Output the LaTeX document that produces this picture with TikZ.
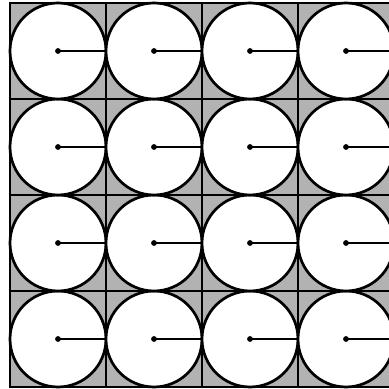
\documentclass[tikz,border=0pt]{standalone}
\usepackage{tikz}

\begin{document}
\begin{tikzpicture}[
  x=1cm, y=1cm,
  cellbox/.style={draw, fill=black!30, line width=0.8pt},
  disc/.style={draw, fill=white, line width=0.8pt},
  spoke/.style={line width=0.8pt}]
  \useasboundingbox (-10/96,-2/96) rectangle (379/96,4+3/96);
  \clip (-10/96,-2/96) rectangle (379/96,4+3/96);
  \foreach \i in {0,...,3}
    \foreach \j in {0,...,3} {
      \draw[cellbox] (\i,\j) rectangle ++(1,1);
      \coordinate (c\i\j) at (\i+0.5,\j+0.5);
      \draw[disc] (c\i\j) circle[radius=0.5];
      \coordinate (e\i\j) at (\i+1,\j+0.5);
      \draw[spoke] (c\i\j) -- (e\i\j);
      \fill (c\i\j) circle[radius=0.03];
    }
\end{tikzpicture}
\end{document}
